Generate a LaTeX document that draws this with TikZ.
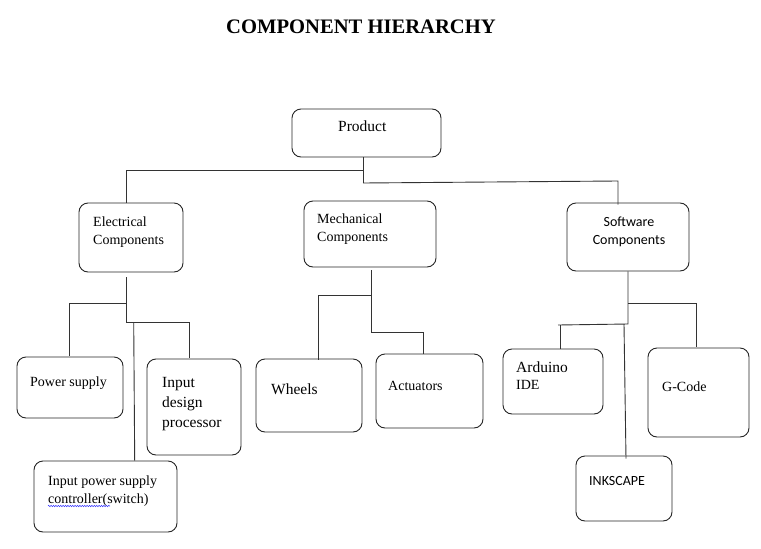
\documentclass[tikz,border=0pt]{standalone}
\usepackage{fontspec}
\setmainfont{Liberation Serif}
\newfontfamily\calfont{Carlito}
\usetikzlibrary{calc,decorations.pathmorphing}
\begin{document}
\begin{tikzpicture}[x=1pt,y=-1pt,
  box/.style={draw=black!85,line width=0.9pt,rounded corners=9pt,inner sep=0pt},
  conn/.style={draw=black!80,line width=0.9pt},
  lbl/.style={anchor=base west,inner sep=0pt,font=\fontsize{14}{18}\selectfont},
  lblbig/.style={anchor=base west,inner sep=0pt,font=\fontsize{15.5}{20}\selectfont},
  sw/.style={inner sep=0pt,font=\calfont\fontsize{14}{18}\selectfont}]
\useasboundingbox (0,0) rectangle (761,549);
% title
\node[anchor=base,inner sep=0pt,font=\bfseries\fontsize{20.6}{24}\selectfont] (title) at (361,33) {COMPONENT HIERARCHY};
% boxes
\node[box,minimum width=149pt,minimum height=48pt] (product) at (366.5,133) {};
\node[box,minimum width=104pt,minimum height=69pt] (elec) at (131,237.5) {};
\node[box,minimum width=132pt,minimum height=66pt] (mech) at (370,234) {};
\node[box,minimum width=122pt,minimum height=68pt] (soft) at (628,237) {};
\node[box,minimum width=106pt,minimum height=61pt] (power) at (70,387.5) {};
\node[box,minimum width=94pt,minimum height=96pt] (design) at (194,407) {};
\node[box,minimum width=143pt,minimum height=71pt] (ctrl) at (105.5,496.5) {};
\node[box,minimum width=106pt,minimum height=73pt] (wheels) at (309,395.5) {};
\node[box,minimum width=107pt,minimum height=74pt] (act) at (429.5,391) {};
\node[box,minimum width=100pt,minimum height=65pt] (ard) at (553,381.5) {};
\node[box,minimum width=101pt,minimum height=89pt] (gcode) at (698.5,392.5) {};
\node[box,minimum width=96pt,minimum height=65pt] (ink) at (624,488.5) {};
% texts
\node[lblbig] (productT) at (338,131) {Product};
\node[lbl] (elecT) at (93,226) {\begin{tabular}[t]{@{}l@{}}Electrical\\Components\end{tabular}};
\node[lbl] (mechT) at (317,223) {\begin{tabular}[t]{@{}l@{}}Mechanical\\Components\end{tabular}};
\node[sw,anchor=base] (softT) at (629,226) {\begin{tabular}[t]{@{}c@{}}Software\\Components\end{tabular}};
\node[lbl] (powerT) at (30,386) {Power supply};
\node[lblbig] (designT) at (162,387) {\begin{tabular}[t]{@{}l@{}}Input\\design\\processor\end{tabular}};
\node[lblbig] (wheelsT) at (271,394) {Wheels};
\node[lbl] (ctrlT) at (48,485) {\begin{tabular}[t]{@{}l@{}}Input power supply\\controller(switch)\end{tabular}};
\node[lbl] (actT) at (388,390) {Actuators};
\node[lblbig] (ardT) at (516,372) {Arduino};
\node[lbl] (ideT) at (516,389) {IDE};
\node[lbl] (gcodeT) at (662,391) {G-Code};
\node[sw,anchor=base west] (inkT) at (589,485) {INKSCAPE};
% spell-check underline
\coordinate (wv1) at (48,506);
\coordinate (wv2) at (110,506);
\draw[blue!80!white,line width=0.5pt,decorate,decoration={snake,amplitude=0.7pt,segment length=2.4pt}] (wv1) -- (wv2);
% connectors: product
\coordinate (p1) at (363,170);
\coordinate (p2) at (363,183);
\coordinate (p3) at (618,181);
\draw[conn] ([xshift=-3.5pt]product.south) -- (p2);
\draw[conn] (p1) -| ([xshift=-5pt]elec.north);
\draw[conn] (p2) -- (p3) -- ([xshift=-10pt,yshift=-2pt]soft.north);
% electrical
\coordinate (e1) at (126,303);
\coordinate (e2) at (126,322);
\coordinate (e3) at (189,322);
\coordinate (e4) at (133.7,322);
\draw[conn] ([xshift=-5pt,yshift=-5pt]elec.south) -- (e2);
\draw[conn] (e1) -| ([xshift=-0.5pt,yshift=1pt]power.north);
\draw[conn] (e2) -- (e3) -- ([xshift=-5pt,yshift=1pt]design.north);
\draw[conn] (e4) -- ([xshift=29.2pt]ctrl.north);
% mechanical
\coordinate (m1) at (371,295);
\coordinate (m2) at (371,332);
\coordinate (m3) at (423,332);
\draw[conn] ([xshift=1pt,yshift=-3pt]mech.south) -- (m2);
\draw[conn] (m1) -| ([xshift=9pt,yshift=-1pt]wheels.north);
\draw[conn] (m2) -- (m3) -- ([xshift=-6.5pt]act.north);
% software
\coordinate (s1) at (628,303);
\coordinate (s2) at (628,324);
\coordinate (s3) at (696,303);
\coordinate (s4) at (558,325);
\coordinate (s5) at (624,324);
\draw[conn] (soft.south) -- (s2) -- (s4);
\draw[conn] (s1) -- (s3) -- ([xshift=-2.5pt,yshift=1pt]gcode.north);
\draw[conn] ([xshift=2pt]s4) -- ([xshift=7pt]ard.north);
\draw[conn] (s5) -- ([xshift=2pt,yshift=-3pt]ink.north);
\end{tikzpicture}
\end{document}
